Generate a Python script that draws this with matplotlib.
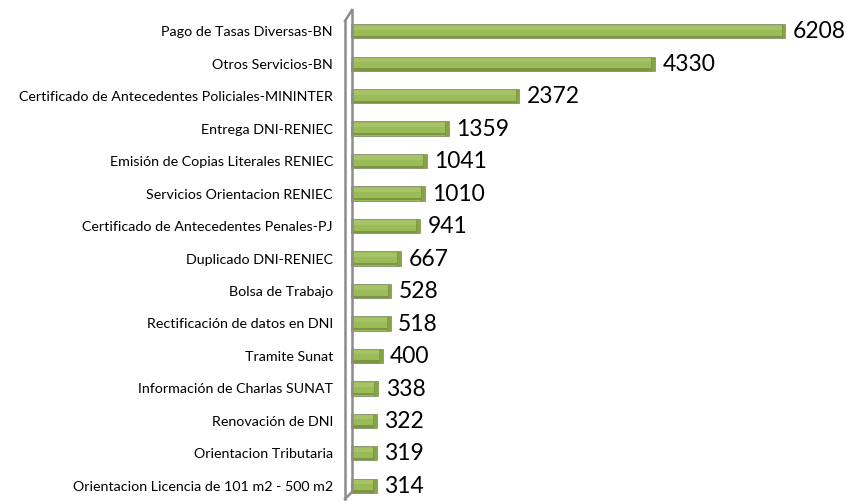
import matplotlib
matplotlib.use("Agg")
import matplotlib.pyplot as plt
from matplotlib.lines import Line2D

categories = [
    "Pago de Tasas Diversas-BN",
    "Otros Servicios-BN",
    "Certificado de Antecedentes Policiales-MININTER",
    "Entrega DNI-RENIEC",
    "Emisión de Copias Literales RENIEC",
    "Servicios Orientacion RENIEC",
    "Certificado de Antecedentes Penales-PJ",
    "Duplicado DNI-RENIEC",
    "Bolsa de Trabajo",
    "Rectificación de datos en DNI",
    "Tramite Sunat",
    "Información de Charlas SUNAT",
    "Renovación de DNI",
    "Orientacion Tributaria",
    "Orientacion Licencia de 101 m2 - 500 m2",
]
values = [6208, 4330, 2372, 1359, 1041, 1010, 941, 667, 528, 518, 400, 338, 322, 319, 314]

W, H = 847, 503
fig = plt.figure(figsize=(W / 100, H / 100), dpi=100)
ax = fig.add_axes([351 / W, 1 - 502 / H, (W - 351) / W, (502 - 15) / H])

n = len(categories)
ypos = list(range(n))
ax.set_ylim(n - 0.5, -0.5)
ax.set_xlim(0, 7150)

bh = 0.44
# main bar face
ax.barh(ypos, values, height=bh, color="#9BBB59", edgecolor="#8A9A78", linewidth=0.7, zorder=3)
# top highlight
ax.barh([y - bh * 0.25 for y in ypos], values, height=bh * 0.3, color="#A6C466", linewidth=0, zorder=4)
# bottom shadow
ax.barh([y + bh * 0.40 for y in ypos], values, height=bh * 0.16, color="#7A9640", linewidth=0, zorder=4)
# end caps
ax.barh(ypos, [55] * n, left=values, height=bh, color="#86A447", edgecolor="#7A9640", linewidth=0.5, zorder=3)

for y, v in zip(ypos, values):
    ax.text(v + 160, y + 0.02, str(v), va="center", ha="left", fontsize=16.5,
            family="Lato", color="black")

ax.set_yticks(ypos)
ax.set_yticklabels(categories, fontsize=10.3, family="Lato")
ax.tick_params(axis="y", length=0, pad=13)
ax.set_xticks([])
for s in ax.spines.values():
    s.set_visible(False)

# 3D-like axis wall
def fx(px):
    return px / W
def fy(py):
    return 1 - py / H
wall = "#8C8C8C"
fig.add_artist(Line2D([fx(345), fx(345)], [fy(21), fy(499)], color=wall, lw=1.8))
fig.add_artist(Line2D([fx(352), fx(352)], [fy(10), fy(492)], color=wall, lw=1.8))
fig.add_artist(Line2D([fx(345), fx(352)], [fy(21), fy(10)], color=wall, lw=1.8))
fig.add_artist(Line2D([fx(345), fx(352)], [fy(499), fy(492)], color=wall, lw=1.8))

fig.savefig("out.png", dpi=100)
